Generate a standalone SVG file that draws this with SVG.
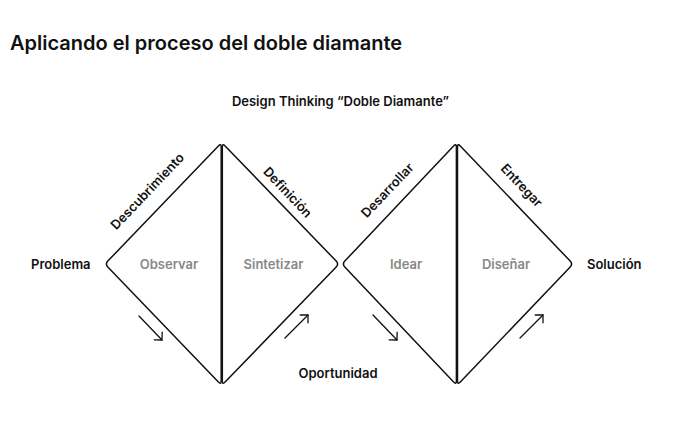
<svg xmlns="http://www.w3.org/2000/svg" width="674" height="441" viewBox="0 0 674 441">
<style>
.shape{fill:none;stroke:#111;stroke-width:1.5;stroke-linejoin:round}
.arr{fill:none;stroke:#111;stroke-width:1.3;stroke-linecap:round}
text{font-family:Inter,"Liberation Sans",sans-serif;fill:#111}
.title{font-size:20px;font-weight:600}
.lbl{font-size:13px;font-weight:600}
.step{font-size:13px;font-weight:600;fill:#888;text-anchor:middle}
.edge{font-size:13px;font-weight:600;text-anchor:middle;dominant-baseline:central}
</style>
<defs>
<marker id="chev" viewBox="-7 -7 8 14" refX="0" refY="0" markerWidth="8" markerHeight="14" markerUnits="userSpaceOnUse" orient="auto">
<path d="M-5.5,-5.5 L0,0 L-5.5,5.5" fill="none" stroke="#111" stroke-width="1.3" stroke-linecap="round" stroke-linejoin="round"/>
</marker>
</defs>
<rect width="674" height="441" fill="#fff"/>
<text class="title" x="10" y="50">Aplicando el proceso del doble diamante</text>
<text class="lbl" x="340.5" y="106" text-anchor="middle">Design Thinking “Doble Diamante”</text>

<g id="problema"><text class="lbl" x="31" y="268.5">Problema</text></g>
<g id="solucion"><text class="lbl" x="587" y="268.5">Solución</text></g>
<g id="oportunidad"><text class="lbl" x="338" y="378" text-anchor="middle">Oportunidad</text></g>

<g id="observar">
<path class="shape" d="M107.8,261.1 L218.4,145.9 Q221.2,143 221.2,147 L221.2,381 Q221.2,385 218.4,382.1 L107.8,266.9 Q105,264 107.8,261.1 Z"/>
<text class="step" x="169" y="268.5">Observar</text>
</g>
<g id="sintetizar">
<path class="shape" d="M222.3,147 Q222.3,143 225.1,145.9 L336.2,261.1 Q339,264 336.2,266.9 L225.1,382.1 Q222.3,385 222.3,381 Z"/>
<text class="step" x="273.5" y="268.5">Sintetizar</text>
</g>
<g id="idear">
<path class="shape" d="M344.8,261.1 L453.6,145.9 Q456.4,143 456.4,147 L456.4,381 Q456.4,385 453.6,382.1 L344.8,266.9 Q342,264 344.8,261.1 Z"/>
<text class="step" x="406" y="268.5">Idear</text>
</g>
<g id="disenar">
<path class="shape" d="M457.5,147 Q457.5,143 460.3,145.9 L570.2,261.1 Q573,264 570.2,266.9 L460.3,382.1 Q457.5,385 457.5,381 Z"/>
<text class="step" x="506" y="268.5">Diseñar</text>
</g>

<g id="edge-labels">
<text class="edge" transform="translate(147,191) rotate(-46.5)">Descubrimiento</text>
<text class="edge" transform="translate(288,192) rotate(46.5)">Definición</text>
<text class="edge" transform="translate(387,190) rotate(-46.5)">Desarrollar</text>
<text class="edge" transform="translate(522,185) rotate(46.5)">Entregar</text>
</g>

<g id="connectors">
<line class="arr" x1="139" y1="316" x2="162" y2="340" marker-end="url(#chev)"/>
<line class="arr" x1="285" y1="338" x2="308" y2="315" marker-end="url(#chev)"/>
<line class="arr" x1="373" y1="315" x2="397" y2="340" marker-end="url(#chev)"/>
<line class="arr" x1="520" y1="338" x2="543" y2="315" marker-end="url(#chev)"/>
</g>
</svg>
